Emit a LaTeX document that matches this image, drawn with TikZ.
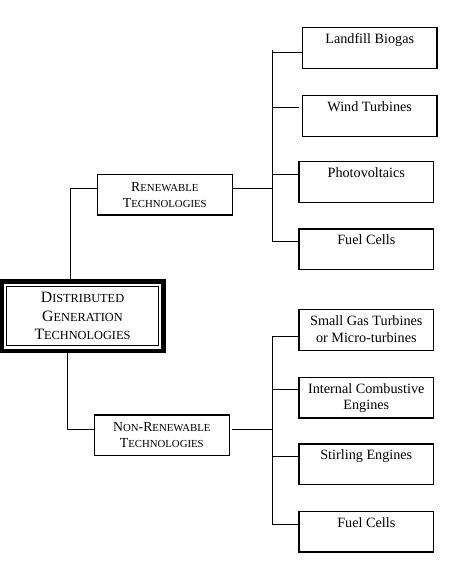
\documentclass[tikz,border=0pt]{standalone}
\usepackage{fontspec}
\setmainfont{Liberation Serif}
\usetikzlibrary{calc}
\newcommand\lowsc[1]{{\fontsize{0.78\dimexpr\fontdimen6\font\relax}{0pt}\selectfont #1}}
\begin{document}
\begin{tikzpicture}[x=1pt,y=-1pt,
  box/.style={draw, line width=1.2pt, inner sep=0pt, minimum width=134.7pt, align=center},
  leaf/.style={box, text height=16pt, text depth=24.7pt, font=\fontsize{14.2}{16.4}\selectfont},
  leaftwo/.style={leaf, text height=32.4pt, text depth=8.3pt},
  mid/.style={box, minimum height=40.7pt, font=\fontsize{13.8}{16}\selectfont},
  link/.style={line width=1pt}]
\useasboundingbox (0,0) rectangle (474,578);

% root
\node[draw, line width=1.2pt, inner sep=0pt, minimum width=152pt, minimum height=59.3pt,
      align=center, font=\fontsize{15.8}{18.5}\selectfont] (dg) at (82.5,316.15)
      {D\lowsc{ISTRIBUTED}\\G\lowsc{ENERATION}\\T\lowsc{ECHNOLOGIES}};
\draw[line width=4.3pt] ($(dg.north west)+(-4.35,-4.35)$) rectangle ($(dg.south east)+(4.35,4.35)$);

% middle level
\node[mid] (ren) at (164.8,194.7) {R\lowsc{ENEWABLE}\\T\lowsc{ECHNOLOGIES}};
\node[mid] (non) at (161.8,435.3) {N\lowsc{ON}-R\lowsc{ENEWABLE}\\T\lowsc{ECHNOLOGIES}};

% leaves
\node[leaf, anchor=north] (l1) at (369.7,27.3) {Landfill Biogas};
\node[leaf, anchor=north] (l2) at (369.7,95) {Wind Turbines};
\node[leaf, anchor=north] (l3) at (366.3,161) {Photovoltaics};
\node[leaf, anchor=north] (l4) at (366.3,228.3) {Fuel Cells};
\node[leaftwo, anchor=north] (n1) at (366.3,309) {Small Gas Turbines\\or Micro-turbines};
\node[leaftwo, anchor=north] (n2) at (366.3,376.7) {Internal Combustive\\Engines};
\node[leaf, anchor=north] (n3) at (366.3,443.3) {Stirling Engines};
\node[leaf, anchor=north] (n4) at (366.3,510.7) {Fuel Cells};

% connector points
\coordinate (dgtop) at (70,280);
\coordinate (dgbot) at (67.7,352);
\coordinate (rin) at (ren.west |- 0,188);
\coordinate (rout) at (ren.east |- 0,188);
\coordinate (nin) at (non.west |- 0,429.5);
\coordinate (nout) at (non.east |- 0,429.5);
\coordinate (rt0) at (272.3,50);
\coordinate (rt1) at (272.3,52.3);
\coordinate (rt2) at (272.3,107.3);
\coordinate (rt3) at (272.3,174.7);
\coordinate (rt4) at (272.3,241.5);
\coordinate (rtm) at (272.3,188);
\coordinate (nt1) at (272.3,336);
\coordinate (nt2) at (272.3,389.3);
\coordinate (nt3) at (272.3,456.7);
\coordinate (nt4) at (272.3,524);
\coordinate (ntm) at (272.3,429.5);

% connectors
\draw[link] (dgtop) |- (rin);
\draw[link] (dgbot) |- (nin);
\draw[link] (rout) -- (rtm);
\draw[link] ([xshift=2pt]nout) -- (ntm);
\draw[link] (rt0) -- (rt4);
\draw[link] (nt1) -- (nt4);
\draw[link] (rt1) -- (rt1 -| l1.west);
\draw[link] (rt2) -- ([xshift=-3pt]rt2 -| l2.west);
\draw[link] (rt3) -- (rt3 -| l3.west);
\draw[link] (rt4) -- (rt4 -| l4.west);
\draw[link] (nt1) -- (nt1 -| n1.west);
\draw[link] (nt2) -- (nt2 -| n2.west);
\draw[link] (nt3) -- (nt3 -| n3.west);
\draw[link] (nt4) -- (nt4 -| n4.west);
\end{tikzpicture}
\end{document}
